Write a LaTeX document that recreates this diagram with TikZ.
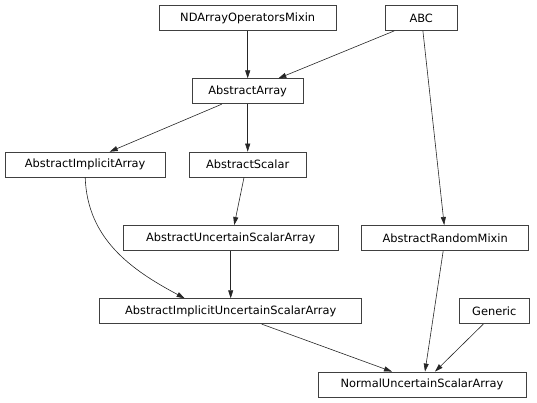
\documentclass[tikz,border=0pt]{standalone}
\usepackage{fontspec}
\setmainfont{DejaVu Sans}
\usepackage{tikz}
\usetikzlibrary{arrows.meta, positioning}

\begin{document}
\begin{tikzpicture}[
    x=1pt, y=1pt,
    node distance=47.5pt,
    cls/.style={rectangle, draw=black!75, line width=0.8pt, inner sep=0pt, minimum height=25pt, font=\fontsize{11.4}{14}\selectfont},
    line/.style={draw=black!85, line width=0.6pt, -{Triangle[length=8pt, width=5pt]}}
]
    \useasboundingbox (0,0) rectangle (537,-403);

    % Nodes
    \node [cls, minimum width=177pt] (ndarray) at (247.7,-18) {NDArrayOperatorsMixin};
    \node [cls, minimum width=72pt, right=48.2pt of ndarray] (abc) {ABC};
    \node [cls, minimum width=111pt, below=of ndarray] (array) {AbstractArray};
    \node [cls, minimum width=117pt, below=of array] (scalar) {AbstractScalar};
    \node [cls, minimum width=160pt, left=23.2pt of scalar] (implicit) {AbstractImplicitArray};
    \node [cls, minimum width=215pt, below=of scalar, xshift=-17pt] (uncertain) {AbstractUncertainScalarArray};
    \node [cls, minimum width=167pt, right=22.7pt of uncertain] (random) {AbstractRandomMixin};
    \node [cls, minimum width=262pt, below=of uncertain] (iuncertain) {AbstractImplicitUncertainScalarArray};
    \node [cls, minimum width=70pt, right=96.8pt of iuncertain] (generic) {Generic};
    \node [cls, minimum width=208pt, below=of iuncertain, xshift=191.3pt] (normal) {NormalUncertainScalarArray};

    % Paths
    \path [line] (ndarray) -- (array);
    \path [line] ([xshift=-27pt]abc.south) -- ([xshift=30.6pt]array.north);
    \path [line] ([xshift=1.7pt]abc.south) -- ([xshift=-1pt]random.north);
    \path [line] ([xshift=-26pt]array.south) -- ([xshift=24.5pt]implicit.north);
    \path [line] (array) -- (scalar);
    \path [line] ([xshift=-3.7pt]scalar.south) -- ([xshift=3.5pt]uncertain.north);
    \path [line] (implicit.south) to[out=-88, in=152] ([xshift=-46pt]iuncertain.north);
    \path [line] (uncertain) -- (iuncertain);
    \path [line] ([xshift=31pt]iuncertain.south) -- ([xshift=-30pt]normal.north);
    \path [line] ([xshift=-2pt]random.south) -- ([xshift=3pt]normal.north);
    \path [line] ([xshift=-11pt]generic.south) -- ([xshift=13pt]normal.north);
\end{tikzpicture}
\end{document}
